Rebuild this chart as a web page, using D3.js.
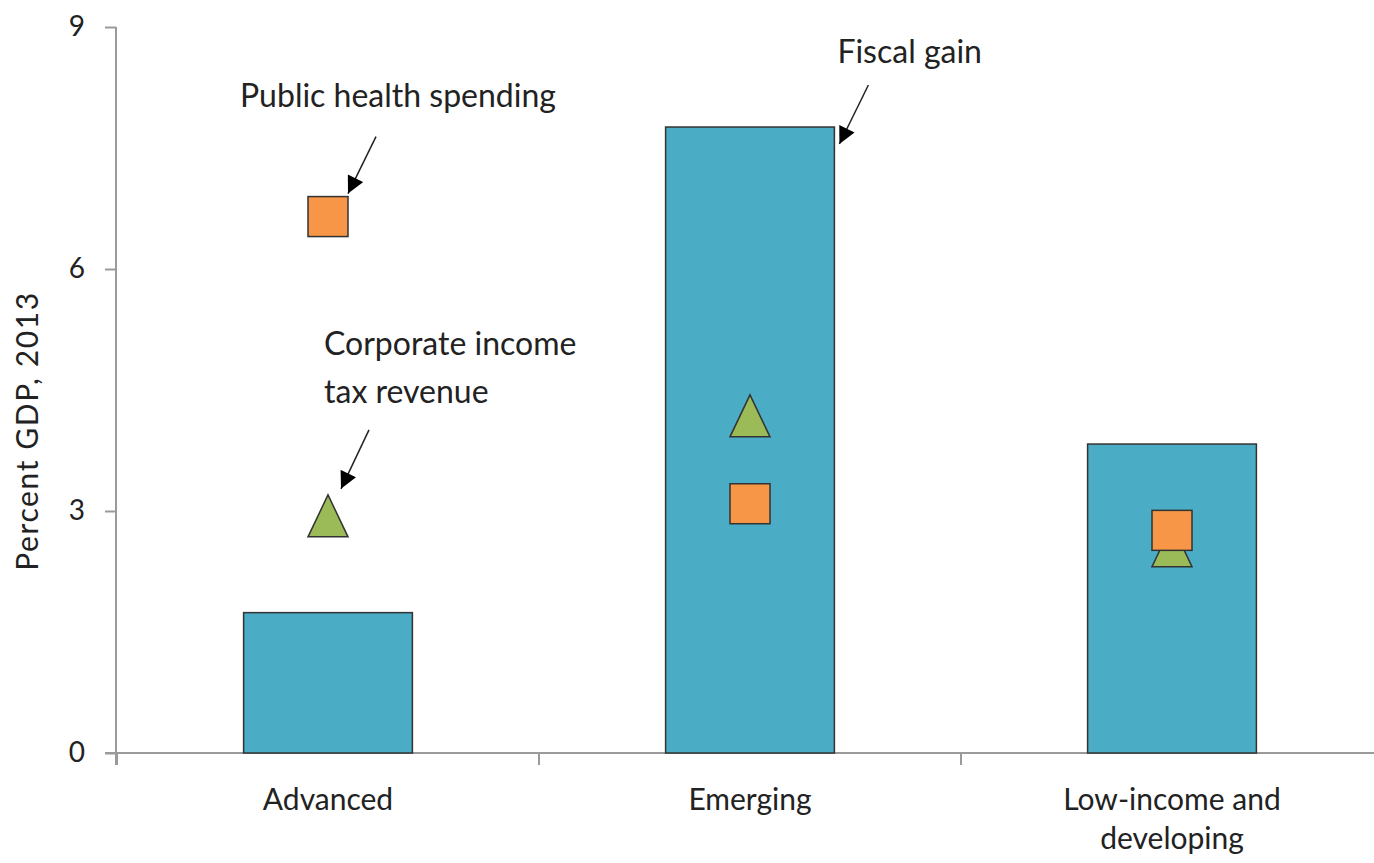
<!DOCTYPE html>
<html><head><meta charset="utf-8">
<script src="https://cdn.jsdelivr.net/npm/d3@7"></script>
<style>body{margin:0;background:#fff}svg{display:block}text{font-family:Lato,"Open Sans",sans-serif;fill:#222}</style>
</head><body><svg id="c" width="1374" height="863"></svg>
<script>
const categories = ["Advanced", "Emerging", "Low-income and\ndeveloping"];
const fiscalGain = [1.74, 7.76, 3.83];
const healthSpending = [6.65, 3.09, 2.76];
const corpTaxRevenue = [2.94, 4.18, 2.57];
const yTicks = [0, 3, 6, 9];

const svg = d3.select("#c");
const x = d3.scaleBand().domain(categories).range([117, 1383]).padding(0);
const y = d3.scaleLinear().domain([0, 9]).range([753, 27]);
const bw = x.bandwidth() * 0.4;
const cx = c => x(c) + x.bandwidth() / 2;

// y axis
const ya = svg.append("g").attr("transform", "translate(116,0)")
  .call(d3.axisLeft(y).tickValues(yTicks).tickSize(11).tickPadding(20).tickFormat(d3.format("d")));
ya.select(".domain").attr("stroke", "#9a9a9a").attr("stroke-width", 2).attr("d", "M0,27V765");
ya.selectAll(".tick line").attr("stroke", "#9a9a9a").attr("stroke-width", 2);
ya.selectAll(".tick text").attr("font-size", 28).attr("fill", "#333").attr("font-family", "Lato");

// x axis line
svg.append("line").attr("x1", 105).attr("x2", 1374).attr("y1", y(0)).attr("y2", y(0))
  .attr("stroke", "#9a9a9a").attr("stroke-width", 2);
const bounds = categories.map(c => x(c)).concat([x.range()[1]]);
svg.selectAll(".xt").data(bounds).enter().append("line")
  .attr("x1", d => d).attr("x2", d => d).attr("y1", y(0)).attr("y2", y(0) + 12)
  .attr("stroke", "#9a9a9a").attr("stroke-width", 2);

// category labels
categories.forEach(c => {
  const lines = c.split("\n");
  const t = svg.append("text").attr("text-anchor", "middle").attr("font-size", 30).attr("fill", "#222");
  lines.forEach((l, i) => t.append("tspan").attr("x", cx(c)).attr("y", 810 + i * 39).text(l));
});

// y label
svg.append("text").attr("transform", "translate(38,431) rotate(-90)").attr("text-anchor", "middle")
  .attr("font-size", 30).attr("letter-spacing", 1.6).attr("fill", "#222").text("Percent GDP, 2013");

// bars
svg.selectAll(".bar").data(categories).enter().append("rect")
  .attr("x", c => cx(c) - bw / 2).attr("width", bw)
  .attr("y", (c, i) => y(fiscalGain[i])).attr("height", (c, i) => y(0) - y(fiscalGain[i]))
  .attr("fill", "#4BACC6").attr("stroke", "#333").attr("stroke-width", 1.5);

// triangles
const ts = 40, th = 42;
svg.selectAll(".tri").data(categories).enter().append("path")
  .attr("d", (c, i) => {
    const px = cx(c), py = y(corpTaxRevenue[i]);
    return `M${px},${py - th / 2}L${px + ts / 2},${py + th / 2}L${px - ts / 2},${py + th / 2}Z`;
  })
  .attr("fill", "#9BBB59").attr("stroke", "#333").attr("stroke-width", 1.5);

// squares
const sq = 40;
svg.selectAll(".sq").data(categories).enter().append("rect")
  .attr("x", c => cx(c) - sq / 2).attr("width", sq)
  .attr("y", (c, i) => y(healthSpending[i]) - sq / 2).attr("height", sq)
  .attr("fill", "#F79646").attr("stroke", "#333").attr("stroke-width", 1.5);

// arrowheads
svg.append("defs").append("marker").attr("id", "ah").attr("viewBox", "0 0 10 10")
  .attr("refX", 10).attr("refY", 5).attr("markerWidth", 18).attr("markerHeight", 17)
  .attr("markerUnits", "userSpaceOnUse").attr("orient", "auto")
  .append("path").attr("d", "M0,0L10,5L0,10Z").attr("fill", "#000");

function annot(px, py, sx, sy, tx, ty) {
  svg.append("line").attr("x1", px + sx).attr("y1", py + sy).attr("x2", px + tx).attr("y2", py + ty)
    .attr("stroke", "#222").attr("stroke-width", 1.5).attr("marker-end", "url(#ah)");
}
function label(px, py, lines, anchor, lh) {
  const t = svg.append("text").attr("text-anchor", anchor).attr("font-size", 32).attr("fill", "#222");
  lines.forEach((l, i) => t.append("tspan").attr("x", px).attr("y", py + i * lh).text(l));
}
// Public health spending (Advanced square)
{
  const px = cx(categories[0]), py = y(healthSpending[0]);
  annot(px, py, 48, -80, 20, -23);
  label(px + 70, py - 110, ["Public health spending"], "middle", 0);
}
// Corporate income tax revenue (Advanced triangle)
{
  const px = cx(categories[0]), py = y(corpTaxRevenue[0]);
  annot(px, py, 41, -86, 13, -27);
  label(px - 4, py - 161, ["Corporate income", "tax revenue"], "start", 48);
}
// Fiscal gain (Emerging bar)
{
  const px = cx(categories[1]) + bw / 2, py = y(fiscalGain[1]);
  annot(px, py, 34, -42, 5, 17);
  label(px + 3, py - 64, ["Fiscal gain"], "start", 0);
}
</script></body></html>
